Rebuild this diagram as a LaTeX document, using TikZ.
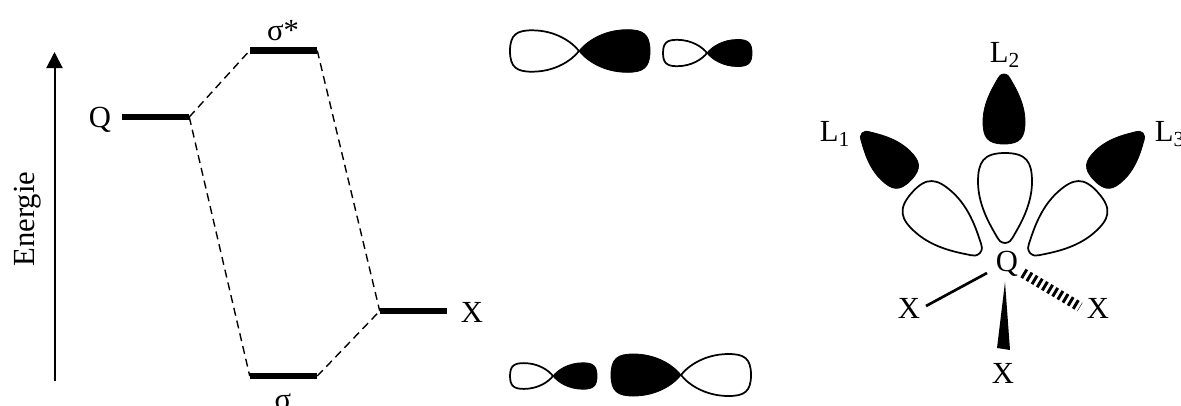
\documentclass[tikz,border=0pt]{standalone}
\usepackage{fontspec}
\setmainfont{Liberation Serif}
\usepackage{tikz}
\usetikzlibrary{calc,arrows.meta}
\newcommand{\lobe}[4]{\path[#1,shift={(#2)},rotate=#3,scale=#4]
  (0,0) .. controls (.10,.13) and (.34,.30) .. (.68,.30) .. controls (.9,.30) and (1,.24) .. (1,0)
  .. controls (1,-.24) and (.9,-.30) .. (.68,-.30) .. controls (.34,-.30) and (.10,-.13) .. (0,0) -- cycle;}
\newcommand{\petal}[4]{\path[#1,shift={(#2)},rotate=#3,scale=#4]
  (0,0) .. controls (.005,.05) and (.03,.07) .. (.06,.085) .. controls (.16,.14) and (.4,.30) .. (.68,.30)
  .. controls (.9,.30) and (1,.24) .. (1,0) .. controls (1,-.24) and (.9,-.30) .. (.68,-.30)
  .. controls (.4,-.30) and (.16,-.14) .. (.06,-.085) .. controls (.03,-.07) and (.005,-.05) .. (0,0) -- cycle;}

\begin{document}
\begin{tikzpicture}[
      x=0.75pt,y=-0.75pt,
      every node/.style={font=\fontsize{23}{26}\selectfont,inner sep=1pt},
      level/.style={fill=black,inner sep=0pt,minimum width=50.25pt,minimum height=4.8pt},
      dlink/.style={line width=1.05pt,dash pattern=on 6pt off 3.8pt},
      open/.style={draw=black,line width=1.3pt,fill=white},
      full/.style={draw=black,line width=0.6pt,fill=black},
      >={Triangle[length=12pt,width=12pt]},
    ]
  \useasboundingbox (0,0) rectangle (1181,405);

  % niveaux
  \node[level] (q) at (155.5,117) {};
  \node[level] (sstar) at (283.5,50.5) {};
  \node[level] (xl) at (413.5,311) {};
  \node[level] (sig) at (283.5,376) {};
  \node (lq) at (100,120) {Q};
  \node (lxl) at (472,312) {X};
  \node (lsstar) at (283,31) {σ*};
  \node (lsig) at (283,402) {σ};
  \node[rotate=90,anchor=base] (en) at (34,219) {Energie};
  \coordinate (e0) at (54.5,381);
  \coordinate (e1) at (54.5,52);
  \draw[->,line width=1.5pt] (e0) -- (e1);

  \draw[dlink] (q.east) -- (sstar.west);
  \draw[dlink] (q.east) -- (sig.west);
  \draw[dlink] (sstar.east) -- (xl.west);
  \draw[dlink] (sig.east) -- (xl.west);

  % orbitales
  \lobe{open}{579,51}{180}{69}
  \lobe{full}{579,51}{0}{71}
  \lobe{open}{707,53}{180}{44}
  \lobe{full}{707,53}{0}{45}
  \lobe{open}{553,376}{180}{43}
  \lobe{full}{553,376}{0}{44}
  \lobe{full}{681,375}{180}{70}
  \lobe{open}{681,375}{0}{70}

  % ligands
  \petal{open}{980,253}{138.5}{91}
  \petal{open}{1005,243}{90}{90}
  \petal{open}{1030,253}{41.5}{91}
  \petal{full}{862,133}{-44}{68}
  \petal{full}{1004,74}{-90}{70}
  \petal{full}{1143,133}{-136}{68}
  \node (l1) at (835,134) {L\textsubscript{1}};
  \node (l2) at (1005,55) {L\textsubscript{2}};
  \node (l3) at (1170,134) {L\textsubscript{3}};

  \node (qx) at (1007,264) {Q};
  \node (xa) at (909,308) {X};
  \node (xc) at (1098,308) {X};
  \node (xb) at (1003,373) {X};
  \draw[line width=2pt] ($(qx.center)+(-20,9)$) -- ($(xa.center)+(17,-2)$);
  \draw[line width=7.5pt,dash pattern=on 2.2pt off 2.3pt] ($(qx.center)+(16,9)$) -- ($(xc.center)+(-18,-1)$);
  \fill ($(qx.center)+(-2,18)$) -- ($(xb.center)+(-6,-25)$) -- ($(xb.center)+(7,-23)$) -- cycle;
\end{tikzpicture}
\end{document}
